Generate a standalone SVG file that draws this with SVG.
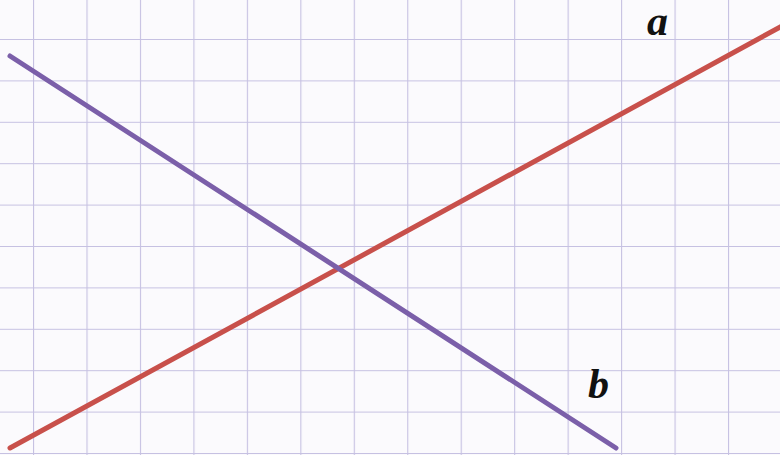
<svg xmlns="http://www.w3.org/2000/svg" width="780" height="455" viewBox="0 0 780 455">
<defs>
<pattern id="grid" x="33" y="39" width="53.46" height="41.4" patternUnits="userSpaceOnUse">
<rect x="0" y="0" width="53.46" height="41.4" fill="#fbfafd"/>
<line x1="0" y1="0" x2="0" y2="41.4" stroke="#c6c1e2" stroke-width="2.2"/>
<line x1="0" y1="0" x2="53.46" y2="0" stroke="#c6c1e2" stroke-width="2.2"/>
</pattern>
</defs>
<style>
.ln{stroke-width:5;stroke-linecap:round;fill:none}
.lbl{font-family:"Liberation Serif","Times New Roman",serif;font-weight:bold;font-style:italic;font-size:42px;fill:#111}
</style>
<rect width="780" height="455" fill="url(#grid)"/>
<g id="connectors">
<line id="line-a" class="ln" x1="10" y1="448" x2="782" y2="26" stroke="#c8504b"/>
<line id="line-b" class="ln" x1="10" y1="56" x2="616" y2="448" stroke="#7b5fa9"/>
</g>
<g id="label-a"><text class="lbl" x="647" y="35">a</text></g>
<g id="label-b"><text class="lbl" x="588" y="398">b</text></g>
</svg>
